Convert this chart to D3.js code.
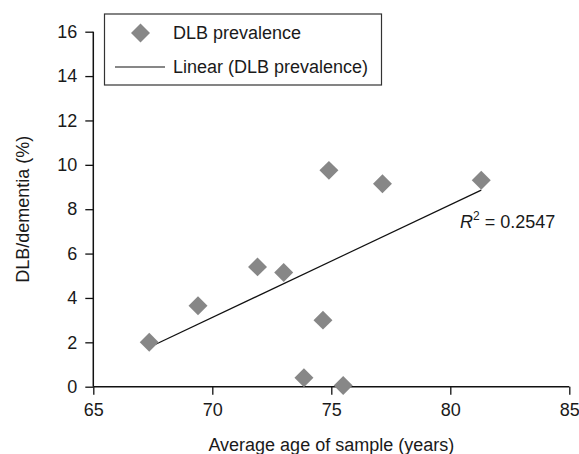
<!DOCTYPE html>
<html>
<head>
<meta charset="utf-8">
<script src="https://cdn.jsdelivr.net/npm/d3@7"></script>
<style>
  html, body { margin: 0; padding: 0; background: #fff; }
  svg { display: block; }
  text { font-family: "Liberation Sans", Arial, sans-serif; fill: #1a1a1a; }
</style>
</head>
<body>
<svg id="chart" width="579" height="454"></svg>
<script>
// ---- data ----
const ages = [67.35, 69.4, 71.9, 73.0, 73.85, 74.65, 74.9, 75.5, 77.15, 81.3];
const prevalence = [2.0, 3.65, 5.4, 5.15, 0.4, 3.0, 9.75, 0.05, 9.15, 9.3];
const trendX = [67.4, 81.3];
const trendY = [1.8, 8.86];
const xTicks = [65, 70, 75, 80, 85];
const yTicks = [0, 2, 4, 6, 8, 10, 12, 14, 16];
const seriesName = "DLB prevalence";
const trendName = "Linear (DLB prevalence)";
const rSquared = "0.2547";
const xTitle = "Average age of sample (years)";
const yTitle = "DLB/dementia (%)";

const svg = d3.select("#chart");
const x = d3.scaleLinear().domain([65, 85]).range([93.3, 569.3]);
const y = d3.scaleLinear().domain([0, 16]).range([386.7, 31.7]);

const FS = 18;
const grey = "#878787";

// axes
const xAxis = svg.append("g").attr("transform", `translate(0,${y(0)})`)
  .call(d3.axisBottom(x).tickValues(xTicks).tickSize(8).tickPadding(9).tickFormat(d3.format("d")));
const yAxis = svg.append("g").attr("transform", `translate(${x(65)},0)`)
  .call(d3.axisLeft(y).tickValues(yTicks).tickSize(8).tickPadding(8).tickFormat(d3.format("d")));
[xAxis, yAxis].forEach(g => {
  g.select(".domain").attr("stroke", "#111").attr("stroke-width", 1.5);
  g.selectAll(".tick line").attr("stroke", "#111").attr("stroke-width", 1.3);
  g.selectAll(".tick text").attr("font-size", FS).attr("fill", "#1a1a1a")
    .attr("font-family", "Liberation Sans, Arial, sans-serif");
});
// remove outer domain ticks (d3 draws tickSizeOuter) -> keep plain line
xAxis.select(".domain").attr("d", `M${x(65)},0H${x(85)}`);
yAxis.select(".domain").attr("d", `M0,${y(16)}V${y(0)}`);

// trend line
svg.append("line")
  .attr("x1", x(trendX[0])).attr("y1", y(trendY[0]))
  .attr("x2", x(trendX[1])).attr("y2", y(trendY[1]))
  .attr("stroke", "#111").attr("stroke-width", 1.2);

// diamonds
const diamond = d3.symbol().type(d3.symbolSquare).size(180);
svg.append("g").selectAll("path")
  .data(ages.map((a, i) => [a, prevalence[i]]))
  .join("path")
  .attr("d", diamond)
  .attr("transform", d => `translate(${x(d[0])},${y(d[1])}) rotate(45)`)
  .attr("fill", grey);

// R^2 label
const rt = svg.append("text").attr("x", 460).attr("y", 228).attr("font-size", FS);
rt.append("tspan").attr("font-style", "italic").text("R");
rt.append("tspan").attr("font-size", 12).attr("dy", -8).text("2");
rt.append("tspan").attr("dy", 8).text(" = " + rSquared);

// legend
const lg = svg.append("g");
lg.append("rect").attr("x", 104.5).attr("y", 14).attr("width", 277).attr("height", 71)
  .attr("fill", "#fff").attr("stroke", "#333").attr("stroke-width", 1.2);
lg.append("path").attr("d", diamond)
  .attr("transform", "translate(140.5,33) rotate(45)").attr("fill", grey);
lg.append("text").attr("x", 173).attr("y", 39).attr("font-size", FS).text(seriesName);
lg.append("line").attr("x1", 115).attr("x2", 165).attr("y1", 67).attr("y2", 67)
  .attr("stroke", "#111").attr("stroke-width", 1.2);
lg.append("text").attr("x", 173).attr("y", 73).attr("font-size", FS).text(trendName);

// axis titles
svg.append("text").attr("x", x(75)).attr("y", 451).attr("text-anchor", "middle")
  .attr("font-size", FS).text(xTitle);
svg.append("text").attr("transform", `translate(29,${(y(0) + y(16)) / 2}) rotate(-90)`)
  .attr("text-anchor", "middle").attr("font-size", FS).text(yTitle);
</script>
</body>
</html>
